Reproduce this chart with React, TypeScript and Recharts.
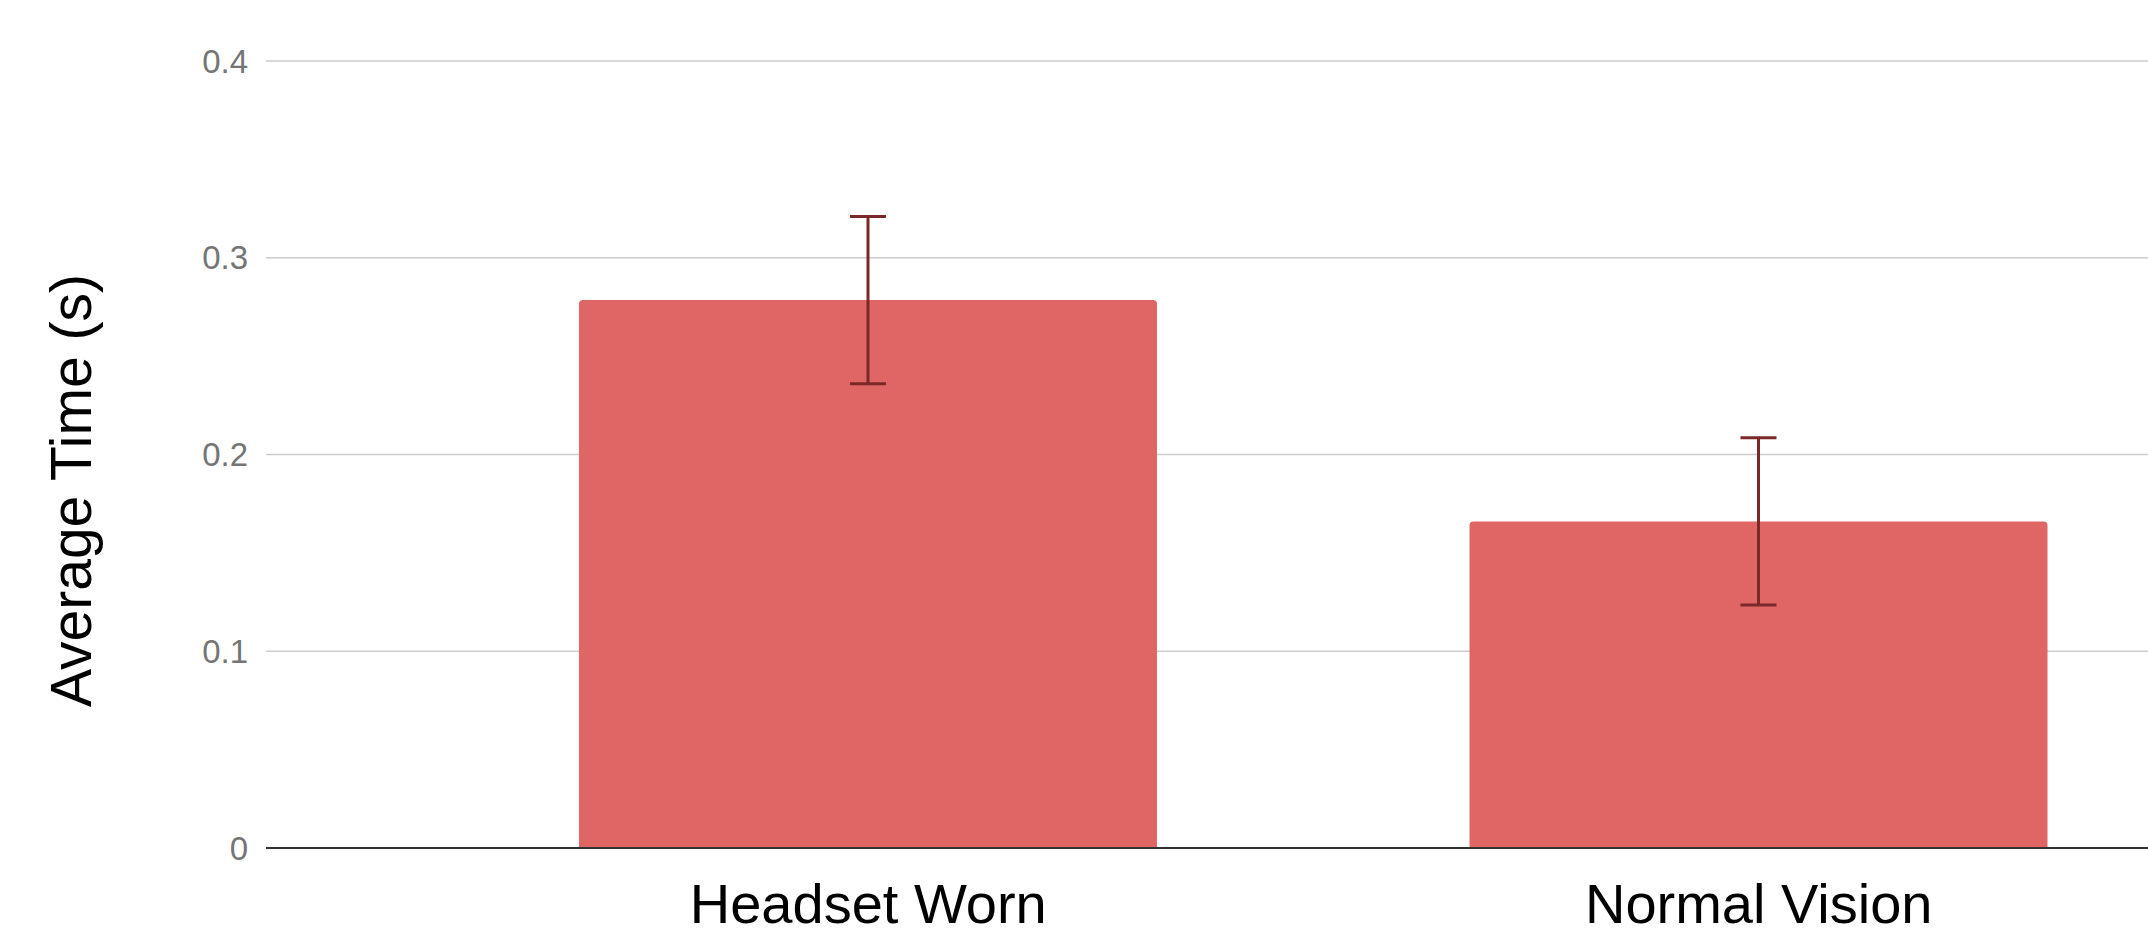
import React from 'react';
import { BarChart, Bar, XAxis, YAxis, CartesianGrid, ErrorBar } from 'recharts';

const conditions = ['Headset Worn', 'Normal Vision'];
const avgTimes = [0.2785, 0.166];
const timeErrors = [0.0425, 0.0425];
const yTicks = [0, 0.1, 0.2, 0.3, 0.4];

const data = conditions.map((name, i) => ({ name, time: avgTimes[i], err: timeErrors[i] }));

const FONT = '"Liberation Sans", Arial, sans-serif';

function YAxisTitle(props: any) {
  const vb = props.viewBox || { x: 0, y: 0, width: 0, height: 0 };
  const x = vb.x + 91;
  const y = vb.y + vb.height / 2 + 36;
  return (
    <text
      x={x}
      y={y}
      transform={`rotate(-90, ${x}, ${y})`}
      textAnchor="middle"
      fontSize={57}
      fontFamily={FONT}
      fill="#000"
    >
      Average Time (s)
    </text>
  );
}

export default function App() {
  return (
    <div style={{ position: 'fixed', left: 0, top: 0, width: 2148, height: 934, overflow: 'hidden', background: '#fff' }}>
      <BarChart
        width={2204}
        height={934}
        data={data}
        margin={{ top: 61, right: 0, left: 0, bottom: 0 }}
      >
        <CartesianGrid vertical={false} stroke="#cccccc" strokeWidth={1.5} />
        <XAxis
          dataKey="name"
          padding={{ left: 157, right: 0 }}
          height={86}
          tickLine={false}
          tickSize={0}
          tickMargin={35}
          axisLine={{ stroke: '#333333', strokeWidth: 2 }}
          tick={{ fill: '#000', fontSize: 56, fontFamily: FONT }}
        />
        <YAxis
          width={266}
          domain={[0, 0.4]}
          ticks={yTicks}
          tickLine={false}
          axisLine={false}
          tickSize={0}
          tickMargin={18}
          tick={{ fill: '#757575', fontSize: 33, fontFamily: FONT }}
          label={{ content: (p: any) => <YAxisTitle {...p} /> }}
        />
        <Bar dataKey="time" fill="#e06666" barSize={578} radius={[4, 4, 0, 0]} isAnimationActive={false}>
          <ErrorBar dataKey="err" direction="y" width={18} stroke="#7a2828" strokeWidth={3} isAnimationActive={false} />
        </Bar>
      </BarChart>
    </div>
  );
}
